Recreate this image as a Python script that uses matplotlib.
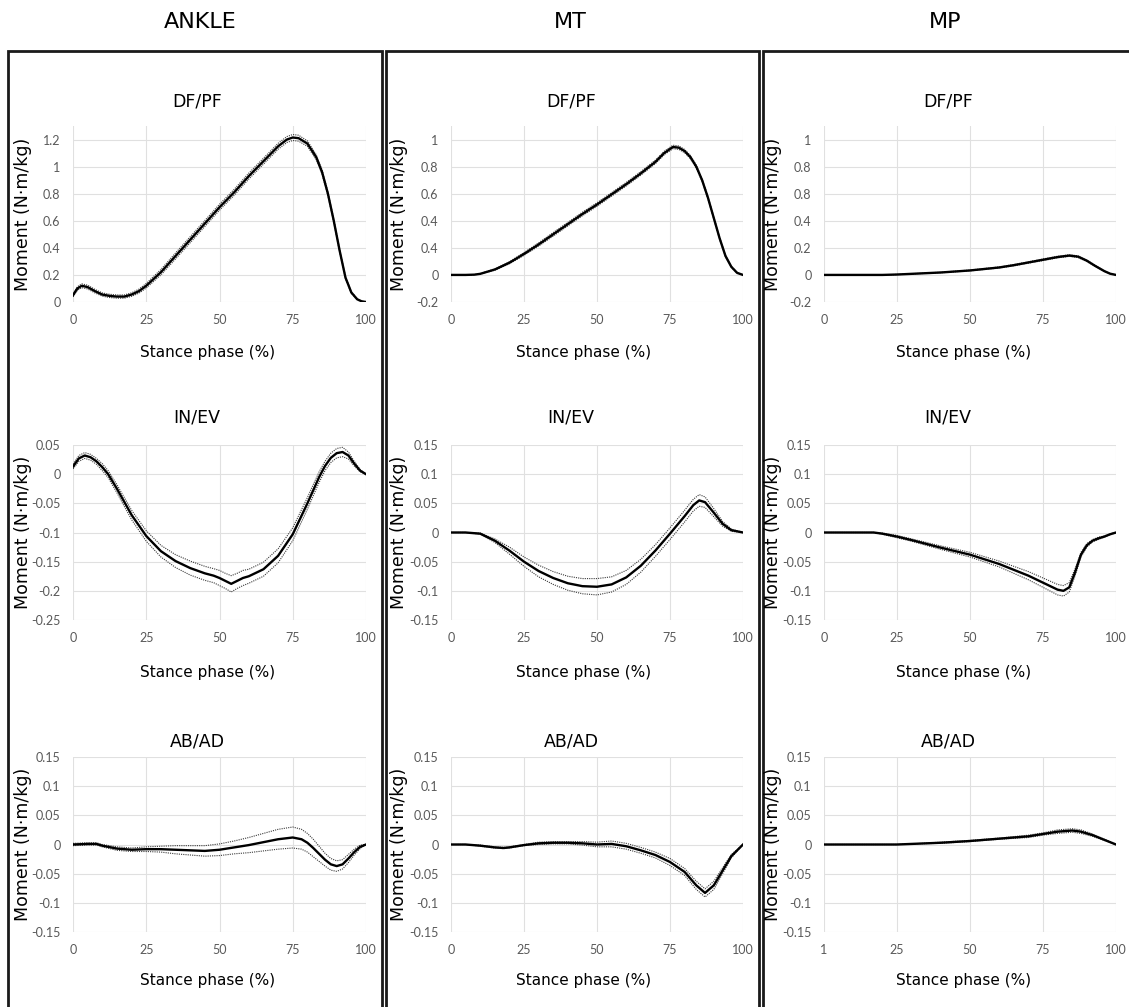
import matplotlib
matplotlib.use("Agg")
import matplotlib.pyplot as plt
from matplotlib.patches import Rectangle
import numpy as np

# ---- data (stance phase %, mean moment, SD) ----
ankle_dfpf_x = [0, 1.5, 3, 5, 7.5, 10, 12.5, 15, 17.5, 20, 22.5, 25, 30, 35, 40, 45, 50, 55, 60, 65,
                70, 73, 75, 77, 80, 83, 85, 87, 89, 91, 93, 95, 97, 98.5, 100]
ankle_dfpf_mean = [0.05, 0.1, 0.12, 0.11, 0.08, 0.055, 0.045, 0.04, 0.04, 0.055, 0.08, 0.12, 0.22, 0.34, 0.46,
                   0.58, 0.70, 0.81, 0.93, 1.04, 1.15, 1.2, 1.215, 1.21, 1.17, 1.07, 0.96, 0.8, 0.6, 0.38,
                   0.18, 0.07, 0.02, 0.005, 0.0]
ankle_dfpf_sd = [0.012, 0.013, 0.014, 0.014, 0.013, 0.012, 0.012, 0.012, 0.012, 0.013, 0.015, 0.017, 0.02,
                 0.022, 0.022, 0.022, 0.022, 0.022, 0.022, 0.022, 0.022, 0.022, 0.022, 0.022, 0.02, 0.018,
                 0.016, 0.014, 0.012, 0.01, 0.008, 0.006, 0.004, 0.002, 0.0]

ankle_inev_x = [0, 2, 4, 6, 8, 10, 12, 15, 20, 25, 30, 35, 40, 45, 48, 50, 52, 54, 56, 58, 60, 65, 70, 75,
                80, 84, 86, 88, 90, 92, 94, 96, 98, 100]
ankle_inev_mean = [0.013, 0.027, 0.032, 0.029, 0.022, 0.012, 0.0, -0.025, -0.07, -0.106, -0.132, -0.149,
                   -0.161, -0.17, -0.174, -0.178, -0.183, -0.188, -0.183, -0.178, -0.175, -0.163, -0.14,
                   -0.103, -0.05, -0.005, 0.014, 0.028, 0.036, 0.038, 0.032, 0.018, 0.006, 0.0]
ankle_inev_sd = [0.004, 0.005, 0.005, 0.005, 0.005, 0.006, 0.006, 0.007, 0.008, 0.009, 0.01, 0.011, 0.012,
                 0.012, 0.012, 0.013, 0.013, 0.014, 0.013, 0.013, 0.012, 0.012, 0.012, 0.011, 0.01, 0.009,
                 0.008, 0.008, 0.008, 0.008, 0.006, 0.004, 0.002, 0.0]

ankle_abad_x = [0, 5, 8, 10, 15, 20, 25, 30, 35, 40, 45, 50, 55, 60, 65, 70, 75, 78, 80, 82, 84, 86, 88,
                90, 92, 94, 96, 98, 100]
ankle_abad_mean = [0.0, 0.001, 0.001, -0.002, -0.007, -0.009, -0.008, -0.008, -0.009, -0.01, -0.011, -0.009,
                   -0.005, -0.001, 0.004, 0.009, 0.012, 0.009, 0.003, -0.006, -0.016, -0.026, -0.034,
                   -0.037, -0.034, -0.024, -0.013, -0.004, 0.0]
ankle_abad_sd = [0.002, 0.002, 0.002, 0.002, 0.003, 0.003, 0.004, 0.005, 0.007, 0.008, 0.009, 0.01, 0.011,
                 0.013, 0.015, 0.017, 0.018, 0.017, 0.016, 0.015, 0.013, 0.011, 0.01, 0.009, 0.008, 0.007,
                 0.005, 0.003, 0.0]

mt_dfpf_x = [0, 5, 8, 10, 15, 20, 25, 30, 35, 40, 45, 50, 55, 60, 65, 70, 73, 76, 78, 80, 82, 84, 86, 88,
             90, 92, 94, 96, 98, 100]
mt_dfpf_mean = [0.0, 0.0, 0.002, 0.008, 0.04, 0.09, 0.155, 0.225, 0.3, 0.375, 0.45, 0.52, 0.595, 0.67,
                0.75, 0.835, 0.9, 0.945, 0.94, 0.915, 0.87, 0.8, 0.7, 0.57, 0.42, 0.27, 0.14, 0.06, 0.015, 0.0]
mt_dfpf_sd = [0.0, 0.0, 0.001, 0.002, 0.005, 0.008, 0.01, 0.012, 0.013, 0.013,
              0.013, 0.013, 0.013, 0.013, 0.013, 0.013, 0.013, 0.013, 0.013, 0.012,
              0.012, 0.011, 0.01, 0.009, 0.008, 0.007, 0.006, 0.004, 0.002, 0.0]

mt_inev_x = [0, 5, 10, 15, 20, 25, 30, 35, 40, 45, 50, 55, 60, 65, 70, 75, 80, 83, 85, 87, 90, 93, 96, 100]
mt_inev_mean = [0.0, 0.0, -0.002, -0.014, -0.031, -0.05, -0.066, -0.078, -0.087, -0.092, -0.093, -0.089,
                -0.077, -0.057, -0.031, -0.002, 0.028, 0.047, 0.055, 0.052, 0.034, 0.015, 0.004, 0.0]
mt_inev_sd = [0.0, 0.0, 0.001, 0.003, 0.006, 0.008, 0.01, 0.011, 0.012, 0.013, 0.014, 0.013, 0.012, 0.011,
              0.01, 0.01, 0.01, 0.01, 0.01, 0.009, 0.007, 0.004, 0.002, 0.0]

mt_abad_x = [0, 5, 10, 15, 18, 20, 25, 30, 35, 40, 45, 50, 55, 60, 65, 70, 75, 80, 84, 87, 90, 93, 96, 100]
mt_abad_mean = [0.0, 0.0, -0.002, -0.005, -0.006, -0.005, -0.001, 0.002, 0.003, 0.003, 0.002, 0.0, 0.001,
                -0.003, -0.01, -0.018, -0.03, -0.047, -0.07, -0.083, -0.07, -0.045, -0.02, 0.0]
mt_abad_sd = [0.0, 0.0, 0.001, 0.001, 0.001, 0.001, 0.001, 0.002, 0.002, 0.002, 0.003, 0.004, 0.005, 0.005,
              0.005, 0.005, 0.006, 0.006, 0.007, 0.007, 0.007, 0.005, 0.003, 0.0]

mp_dfpf_x = [0, 10, 20, 25, 30, 40, 50, 60, 65, 70, 75, 80, 84, 87, 90, 93, 96, 98, 100]
mp_dfpf_mean = [0.0, 0.0, 0.0, 0.003, 0.008, 0.018, 0.033, 0.055, 0.072, 0.092, 0.112, 0.132, 0.143, 0.135,
                0.105, 0.065, 0.028, 0.009, 0.0]
mp_dfpf_sd = [0.0, 0.0, 0.0, 0.001, 0.001, 0.002, 0.003, 0.004, 0.005, 0.005, 0.006, 0.006, 0.006, 0.006,
              0.005, 0.004, 0.003, 0.001, 0.0]

mp_inev_x = [0, 10, 17, 20, 25, 30, 40, 50, 60, 70, 75, 80, 82, 84, 86, 88, 90, 92, 94, 96, 98, 100]
mp_inev_mean = [0.0, 0.0, 0.0, -0.002, -0.007, -0.013, -0.026, -0.038, -0.054, -0.074, -0.086, -0.098, -0.1,
                -0.094, -0.068, -0.038, -0.022, -0.014, -0.01, -0.007, -0.003, 0.0]
mp_inev_sd = [0.0, 0.0, 0.0, 0.001, 0.002, 0.002, 0.003, 0.004, 0.005, 0.007, 0.008, 0.009, 0.009, 0.008,
              0.006, 0.004, 0.003, 0.002, 0.002, 0.001, 0.001, 0.0]

mp_abad_x = [0, 10, 25, 30, 40, 50, 60, 70, 75, 80, 85, 88, 92, 96, 98, 100]
mp_abad_mean = [0.0, 0.0, 0.0, 0.001, 0.003, 0.006, 0.01, 0.014, 0.018, 0.022, 0.024, 0.022, 0.016, 0.008,
                0.004, 0.0]
mp_abad_sd = [0.0, 0.0, 0.0, 0.0, 0.001, 0.001, 0.001, 0.002, 0.002, 0.003, 0.003, 0.003, 0.002, 0.001,
              0.001, 0.0]

columns = ["ANKLE", "MT", "MP"]
rows = ["DF/PF", "IN/EV", "AB/AD"]

x_ticks = [0, 25, 50, 75, 100]
x_labels = ["0", "25", "50", "75", "100"]
x_labels_mp_abad = ["1", "25", "50", "75", "100"]

dfpf_ankle_ticks = [0, 0.2, 0.4, 0.6, 0.8, 1.0, 1.2]
dfpf_ankle_labels = ["0", "0.2", "0.4", "0.6", "0.8", "1", "1.2"]
dfpf_foot_ticks = [-0.2, 0, 0.2, 0.4, 0.6, 0.8, 1.0]
dfpf_mt_labels = ["-0.2", "0", "0.4", "0.4", "0.6", "0.8", "1"]
dfpf_mp_labels = ["-0.2", "0", "0.2", "0.4", "0.8", "0.8", "1"]
inev_ankle_ticks = [-0.25, -0.2, -0.15, -0.1, -0.05, 0, 0.05]
inev_ankle_labels = ["-0.25", "-0.2", "-0.15", "-0.1", "-0.05", "0", "0.05"]
small_ticks = [-0.15, -0.1, -0.05, 0, 0.05, 0.1, 0.15]
small_labels = ["-0.15", "-0.1", "-0.05", "0", "0.05", "0.1", "0.15"]

panels = {
    (0, 0): (ankle_dfpf_x, ankle_dfpf_mean, ankle_dfpf_sd, (0, 1.3), dfpf_ankle_ticks, dfpf_ankle_labels, x_labels),
    (1, 0): (ankle_inev_x, ankle_inev_mean, ankle_inev_sd, (-0.25, 0.05), inev_ankle_ticks, inev_ankle_labels, x_labels),
    (2, 0): (ankle_abad_x, ankle_abad_mean, ankle_abad_sd, (-0.15, 0.15), small_ticks, small_labels, x_labels),
    (0, 1): (mt_dfpf_x, mt_dfpf_mean, mt_dfpf_sd, (-0.2, 1.1), dfpf_foot_ticks, dfpf_mt_labels, x_labels),
    (1, 1): (mt_inev_x, mt_inev_mean, mt_inev_sd, (-0.15, 0.15), small_ticks, small_labels, x_labels),
    (2, 1): (mt_abad_x, mt_abad_mean, mt_abad_sd, (-0.15, 0.15), small_ticks, small_labels, x_labels),
    (0, 2): (mp_dfpf_x, mp_dfpf_mean, mp_dfpf_sd, (-0.2, 1.1), dfpf_foot_ticks, dfpf_mp_labels, x_labels),
    (1, 2): (mp_inev_x, mp_inev_mean, mp_inev_sd, (-0.15, 0.15), small_ticks, small_labels, x_labels),
    (2, 2): (mp_abad_x, mp_abad_mean, mp_abad_sd, (-0.15, 0.15), small_ticks, small_labels, x_labels_mp_abad),
}

# ---- layout in pixels ----
W, H = 1129, 1007
fig = plt.figure(figsize=(W / 100, H / 100), dpi=100)
fig.patch.set_facecolor("white")

col_plot_x = [(73, 366), (451, 743), (824, 1116)]
row_plot_y = [(126, 302), (445, 620), (757, 932)]
col_head_x = [200, 570, 945]
title_x = [197, 571, 948]
xlabel_x = [208, 584, 964]
ylabel_x = [23, 399, 773]
title_y = [101, 418, 741]
xlabel_y = [352, 672, 980]
boxes = [(8, 382), (386, 759), (763, 1140)]

def fx(px):
    return px / W

def fy(py):
    return 1 - py / H

for c, (x0, x1) in enumerate(boxes):
    fig.patches.append(Rectangle((fx(x0), fy(1020)), fx(x1 - x0), (1020 - 51) / H,
                                 transform=fig.transFigure, fill=False, lw=2, ec="#1a1a1a"))
    fig.text(fx(col_head_x[c]), fy(22), columns[c], ha="center", va="center", fontsize=16)

for (r, c), (xs, mean, sd, ylim, yt, ytl, xtl) in panels.items():
    (px0, px1), (py0, py1) = col_plot_x[c], row_plot_y[r]
    ax = fig.add_axes([fx(px0), fy(py1), fx(px1 - px0), (py1 - py0) / H])
    xs = np.array(xs)
    mean = np.array(mean)
    sd = np.array(sd)
    ax.plot(xs, mean + sd, color="#3a3a3a", lw=0.8, ls=(0, (1, 1)))
    ax.plot(xs, mean - sd, color="#3a3a3a", lw=0.8, ls=(0, (1, 1)))
    ax.plot(xs, mean, color="black", lw=1.7)
    ax.set_xlim(0, 100)
    ax.set_ylim(*ylim)
    ax.set_xticks(x_ticks)
    ax.set_xticklabels(xtl)
    ax.set_yticks(yt)
    ax.set_yticklabels(ytl)
    ax.grid(True, color="#e0e0e0", lw=0.8)
    ax.set_axisbelow(True)
    for s in ax.spines.values():
        s.set_visible(False)
    ax.tick_params(length=0, labelsize=9, labelcolor="#595959", pad=9)
    for lab in ax.get_xticklabels() + ax.get_yticklabels():
        lab.set_family("Lato")

    fig.text(fx(title_x[c]), fy(title_y[r]), rows[r], ha="center", va="center", fontsize=12.5)
    fig.text(fx(xlabel_x[c]), fy(xlabel_y[r]), "Stance phase (%)", ha="center", va="center", fontsize=11)
    fig.text(fx(ylabel_x[c]), fy((py0 + py1) / 2), "Moment (N\u00b7m/kg)", ha="center", va="center",
             rotation=90, fontsize=12.5)

fig.savefig("out.png", dpi=100, facecolor="white")
